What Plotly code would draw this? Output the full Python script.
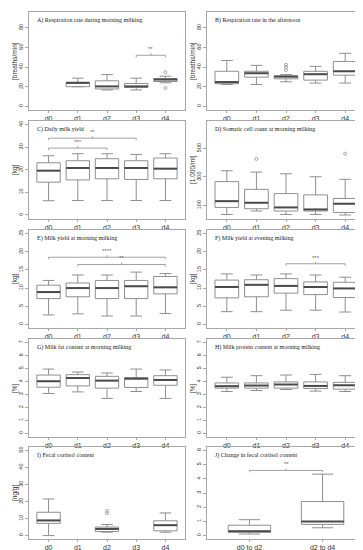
import plotly.graph_objects as go

# ---------------- data ----------------
days = ["d0", "d1", "d2", "d3", "d4"]
pos5 = [1, 2, 3, 4, 5]

A_low = [None, 20.0, 16.7, 16.7, 24.0]
A_q1 = [None, 20.0, 17.7, 19.3, 25.3]
A_med = [None, 24.0, 20.3, 20.3, 27.3]
A_q3 = [None, 24.3, 26.0, 23.3, 28.3]
A_high = [None, 28.7, 32.3, 28.7, 30.7]
A_out_x = [5, 5]
A_out_y = [34.7, 18.7]

B_low = [22.3, 22.3, 25.0, 23.7, 23.7]
B_q1 = [23.0, 29.7, 28.0, 26.7, 31.7]
B_med = [24.7, 33.7, 30.3, 32.7, 35.7]
B_q3 = [35.7, 35.7, 31.0, 35.7, 45.7]
B_high = [46.7, 41.7, 32.3, 40.7, 54.0]
B_out_x = [3, 3, 3]
B_out_y = [42.3, 40.0, 37.0]

C_low = [6.3, 6.4, 6.4, 6.4, 6.4]
C_q1 = [14.5, 15.5, 16.0, 15.7, 16.0]
C_med = [19.6, 20.8, 20.8, 20.8, 20.5]
C_q3 = [23.1, 24.0, 24.9, 24.0, 25.2]
C_high = [26.2, 27.1, 27.1, 26.8, 27.1]

D_low = [37, 61, 37, 37, 33]
D_q1 = [86, 77, 61, 61, 51]
D_med = [130, 119, 86, 72, 112]
D_q3 = [267, 213, 183, 174, 149]
D_high = [343, 334, 322, 301, 283]
D_out_x = [2, 5]
D_out_y = [426, 463]

E_low = [2.6, 2.9, 2.3, 2.3, 3.0]
E_q1 = [7.1, 7.6, 7.1, 7.1, 8.4]
E_med = [8.9, 10.0, 10.0, 10.5, 10.2]
E_q3 = [10.8, 11.4, 12.1, 12.1, 13.2]
E_high = [12.1, 13.6, 13.6, 14.4, 14.0]

F_low = [3.5, 3.5, 3.9, 3.9, 3.4]
F_q1 = [7.3, 7.6, 8.6, 8.2, 7.4]
F_med = [10.3, 10.9, 10.6, 10.3, 9.9]
F_q3 = [12.2, 12.3, 12.6, 11.7, 11.6]
F_high = [13.9, 13.6, 13.9, 13.6, 13.0]

G_low = [3.08, 3.20, 2.70, 3.23, 2.70]
G_q1 = [3.56, 3.66, 3.49, 3.54, 3.71]
G_med = [4.02, 4.27, 4.07, 4.22, 4.12]
G_q3 = [4.50, 4.53, 4.40, 4.30, 4.45]
G_high = [4.96, 4.73, 4.66, 4.96, 4.89]

H_low = [3.23, 3.31, 3.38, 3.26, 3.23]
H_q1 = [3.49, 3.49, 3.49, 3.46, 3.41]
H_med = [3.64, 3.69, 3.77, 3.66, 3.71]
H_q3 = [3.89, 3.89, 3.97, 3.97, 3.94]
H_high = [4.33, 4.45, 4.50, 4.55, 4.45]

I_low = [0.0, None, 2.0, None, 2.0]
I_q1 = [7.2, None, 2.4, None, 2.8]
I_med = [8.9, None, 3.9, None, 6.1]
I_q3 = [13.7, None, 5.0, None, 8.7]
I_high = [21.5, None, 6.5, None, 13.3]
I_out_x = [3, 3]
I_out_y = [14.6, 13.1]

J_cats = ["d0 to d2", "d2 to d4"]
J_pos = [1, 2]
J_low = [0.11, 0.55]
J_q1 = [0.24, 0.79]
J_med = [0.31, 0.99]
J_q3 = [0.73, 2.40]
J_high = [1.12, 4.33]

# significance brackets: (from, to, height, label)
A_sig = [(4, 5, 52.0, "**")]
C_sig = [(1, 4, 34.0, "**"), (1, 3, 29.6, "***")]
E_sig = [(1, 5, 18.5, "****"), (2, 5, 16.5, "**")]
F_sig = [(3, 5, 16.7, "***")]
J_sig = [(1, 2, 4.59, "**")]

# ---------------- styling ----------------
W, H = 363, 550
cols = [(21, 177), (199, 357)]
rows = [(4, 102), (113, 211), (222, 320), (331, 429), (439, 531)]
BOX_C = "#8f8f8f"
MED_C = "#4a4a4a"
FRAME_C = "#a8a8a8"
TXT_C = "#333333"
SANS = "Liberation Sans"
SERIF = "Liberation Serif"

panels = [
    dict(title="A) Respiration rate during morning milking", ylab="[breaths/min]",
         stats=(A_low, A_q1, A_med, A_q3, A_high), pos=pos5, labels=days,
         yr=[-3.7, 96], yt=[0, 20, 40, 60, 80], out=(A_out_x, A_out_y), sig=A_sig),
    dict(title="B) Respiration rate in the afternoon", ylab="[breaths/min]",
         stats=(B_low, B_q1, B_med, B_q3, B_high), pos=pos5, labels=days,
         yr=[-3.7, 96], yt=[0, 20, 40, 60, 80], out=(B_out_x, B_out_y), sig=[]),
    dict(title="C) Daily milk yield", ylab="[kg]",
         stats=(C_low, C_q1, C_med, C_q3, C_high), pos=pos5, labels=days,
         yr=[-1.8, 41.6], yt=[0, 10, 20, 30, 40], out=None, sig=C_sig),
    dict(title="D) Somatic cell count at morning milking", ylab="[1.000/ml]",
         stats=(D_low, D_q1, D_med, D_q3, D_high), pos=pos5, labels=days,
         yr=[5, 692], yt=[100, 300, 500], out=(D_out_x, D_out_y), sig=[]),
    dict(title="E) Milk yield at morning milking", ylab="[kg]",
         stats=(E_low, E_q1, E_med, E_q3, E_high), pos=pos5, labels=days,
         yr=[-1, 26], yt=[0, 5, 10, 15, 20, 25], out=None, sig=E_sig),
    dict(title="F) Milk yield at evening milking", ylab="[kg]",
         stats=(F_low, F_q1, F_med, F_q3, F_high), pos=pos5, labels=days,
         yr=[-1, 26], yt=[0, 5, 10, 15, 20, 25], out=None, sig=F_sig),
    dict(title="G) Milk fat content at morning milking", ylab="[%]",
         stats=(G_low, G_q1, G_med, G_q3, G_high), pos=pos5, labels=days,
         yr=[-0.28, 7.28], yt=[0, 1, 2, 3, 4, 5, 6, 7], out=None, sig=[]),
    dict(title="H) Milk protein content at morning milking", ylab="[%]",
         stats=(H_low, H_q1, H_med, H_q3, H_high), pos=pos5, labels=days,
         yr=[-0.28, 7.28], yt=[0, 1, 2, 3, 4, 5, 6, 7], out=None, sig=[]),
    dict(title="I) Fecal cortisol content", ylab="[ng/g]",
         stats=(I_low, I_q1, I_med, I_q3, I_high), pos=pos5, labels=days,
         yr=[-2, 52], yt=[0, 10, 20, 30, 40, 50], out=(I_out_x, I_out_y), sig=[]),
    dict(title="J) Change in fecal cortisol content", ylab="",
         stats=(J_low, J_q1, J_med, J_q3, J_high), pos=J_pos, labels=J_cats,
         yr=[-0.24, 6.24], yt=[0, 1, 2, 3, 4, 5, 6], out=None, sig=J_sig),
]

fig = go.Figure()
layout = dict(width=W, height=H, margin=dict(l=0, r=0, t=0, b=0),
              paper_bgcolor="white", plot_bgcolor="white", showlegend=False)
annotations = []

for i, p in enumerate(panels):
    n = i + 1
    sfx = "" if n == 1 else str(n)
    xa, ya = "x" + sfx, "y" + sfx
    c = cols[i % 2]
    r = rows[i // 2]
    ncat = len(p["pos"])
    if ncat == 5:
        xr = [0.33, 5.67]
        bw = 0.8
    else:
        xr = [0.42, 2.58]
        bw = 0.58
    lo, q1, md, q3, hi = p["stats"]
    idx = [k for k in range(ncat) if md[k] is not None]
    xs = [p["pos"][k] for k in idx]
    fig.add_trace(go.Box(
        x=xs, q1=[q1[k] for k in idx], median=[md[k] for k in idx],
        q3=[q3[k] for k in idx], lowerfence=[lo[k] for k in idx],
        upperfence=[hi[k] for k in idx], width=bw, whiskerwidth=0.5,
        line=dict(color=BOX_C, width=1), fillcolor="white", boxpoints=False,
        xaxis=xa, yaxis=ya, hoverinfo="skip"))
    # thick median lines
    mx, my = [], []
    for k in idx:
        mx += [p["pos"][k] - bw / 2, p["pos"][k] + bw / 2, None]
        my += [md[k], md[k], None]
    fig.add_trace(go.Scatter(x=mx, y=my, mode="lines",
                             line=dict(color=MED_C, width=2),
                             xaxis=xa, yaxis=ya, hoverinfo="skip"))
    if p["out"]:
        fig.add_trace(go.Scatter(x=p["out"][0], y=p["out"][1], mode="markers",
                                 marker=dict(symbol="circle-open", size=3,
                                             color=BOX_C, line=dict(width=0.8)),
                                 xaxis=xa, yaxis=ya, hoverinfo="skip"))
    span = p["yr"][1] - p["yr"][0]
    drop = span * 2.0 / 98
    for (a, b, h, lab) in p["sig"]:
        fig.add_trace(go.Scatter(x=[a, a, b, b], y=[h - drop, h, h, h - drop],
                                 mode="lines", line=dict(color="#8a8a8a", width=0.8),
                                 xaxis=xa, yaxis=ya, hoverinfo="skip"))
        fig.add_trace(go.Scatter(x=[(a + b) / 2, (a + b) / 2], y=[h, h + drop],
                                 mode="lines", line=dict(color="#8a8a8a", width=0.8),
                                 xaxis=xa, yaxis=ya, hoverinfo="skip"))
        annotations.append(dict(x=(a + b) / 2, y=h, xref=xa, yref=ya,
                                text=lab, showarrow=False, yanchor="bottom",
                                yshift=1, font=dict(size=6, color="#666666",
                                                    family=SANS)))
    layout["xaxis" + sfx] = dict(
        domain=[c[0] / W, c[1] / W], range=xr, anchor=ya,
        tickvals=p["pos"], ticktext=p["labels"], showline=True, mirror=True,
        linecolor=FRAME_C, linewidth=1, ticks="outside", ticklen=2,
        tickcolor=FRAME_C, showgrid=False, zeroline=False, tickangle=0,
        automargin=False,
        tickfont=dict(size=7, color=TXT_C, family=SANS))
    layout["yaxis" + sfx] = dict(
        domain=[1 - r[1] / H, 1 - r[0] / H], range=p["yr"], anchor=xa,
        tickvals=p["yt"], showline=True, mirror=True, linecolor=FRAME_C,
        linewidth=1, ticks="outside", ticklen=3, tickcolor=FRAME_C,
        tickangle=-90, showgrid=False, zeroline=False, automargin=False,
        tickfont=dict(size=5.5, color=TXT_C, family=SANS))
    annotations.append(dict(x=0, y=1, xref=xa + " domain", yref=ya + " domain",
                            xanchor="left", yanchor="top", xshift=6, yshift=-3,
                            text=p["title"], showarrow=False,
                            font=dict(size=6, color="#222222", family=SERIF)))
    if p["ylab"]:
        annotations.append(dict(x=(c[0] - 14) / W, y=1 - (r[0] + r[1]) / 2 / H,
                                xref="paper", yref="paper", xanchor="center",
                                yanchor="middle", textangle=-90,
                                text=p["ylab"], showarrow=False,
                                font=dict(size=6.5, color=TXT_C, family=SANS)))

layout["annotations"] = annotations
fig.update_layout(**layout)
fig.write_html("out.html")
